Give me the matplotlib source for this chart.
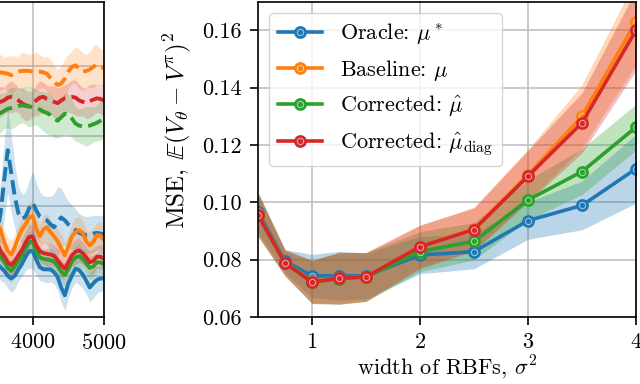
import numpy as np
import matplotlib.pyplot as plt

plt.rcParams['font.family'] = 'serif'
plt.rcParams['font.serif'] = ['cmr10']
plt.rcParams['mathtext.fontset'] = 'cm'
plt.rcParams['axes.formatter.use_mathtext'] = True
plt.rcParams['font.size'] = 16
plt.rcParams['axes.linewidth'] = 1.2
for ax_name in ('xtick', 'ytick'):
    plt.rcParams[ax_name + '.major.size'] = 5.5
    plt.rcParams[ax_name + '.major.width'] = 1.2
    plt.rcParams[ax_name + '.major.pad'] = 6

C_BLUE, C_ORANGE, C_GREEN, C_RED = '#1f77b4', '#ff7f0e', '#2ca02c', '#d62728'

# ---- left panel (learning curves, only the tail is visible) ----
steps = [3500, 3550, 3600, 3650, 3700, 3750, 3800, 3850, 3900, 3950, 4000,
         4050, 4100, 4150, 4200, 4250, 4300, 4350, 4400, 4450, 4500, 4550,
         4600, 4650, 4700, 4750, 4800, 4850, 4900, 4950, 5000]

# dashed curves
orange_dash = [3.90, 3.91, 3.90, 3.89, 3.87, 3.90, 3.92, 3.93, 3.93, 3.93, 3.92,
               3.92, 3.92, 3.91, 3.89, 3.83, 3.77, 3.73, 3.75, 3.82, 3.92, 3.99,
               4.01, 3.96, 3.92, 3.93, 3.95, 3.99, 4.02, 3.99, 3.97]
red_dash = [3.48, 3.49, 3.51, 3.55, 3.56, 3.55, 3.51, 3.47, 3.44, 3.43, 3.47,
            3.51, 3.55, 3.56, 3.53, 3.51, 3.49, 3.47, 3.51, 3.54, 3.55, 3.56,
            3.55, 3.51, 3.49, 3.47, 3.50, 3.52, 3.54, 3.53, 3.51]
green_dash = [3.32, 3.33, 3.36, 3.39, 3.40, 3.41, 3.43, 3.44, 3.43, 3.42, 3.42,
              3.41, 3.38, 3.35, 3.33, 3.30, 3.25, 3.22, 3.27, 3.32, 3.31, 3.25,
              3.18, 3.15, 3.14, 3.14, 3.15, 3.17, 3.19, 3.22, 3.25]
blue_dash = [1.61, 1.90, 2.37, 2.80, 2.47, 2.13, 1.90, 1.82, 1.85, 1.97, 2.05,
             1.94, 1.85, 1.82, 1.80, 1.74, 1.70, 1.78, 1.84, 1.80, 1.74, 1.70,
             1.66, 1.62, 1.60, 1.59, 1.59, 1.61, 1.62, 1.61, 1.60]
orange_dash_sd = [0.24, 0.26, 0.22, 0.25, 0.28, 0.24, 0.22, 0.27, 0.25, 0.23, 0.26,
                  0.28, 0.24, 0.22, 0.25, 0.27, 0.24, 0.22, 0.26, 0.28, 0.25, 0.23,
                  0.26, 0.29, 0.27, 0.24, 0.26, 0.30, 0.28, 0.25, 0.27]
red_dash_sd = [0.20, 0.22, 0.19, 0.21, 0.23, 0.20, 0.18, 0.21, 0.22, 0.20, 0.19,
               0.22, 0.24, 0.21, 0.19, 0.20, 0.23, 0.22, 0.20, 0.19, 0.21, 0.24,
               0.25, 0.23, 0.20, 0.22, 0.24, 0.22, 0.20, 0.21, 0.23]
green_dash_sd = [0.26, 0.28, 0.25, 0.27, 0.30, 0.28, 0.26, 0.25, 0.27, 0.29, 0.27,
                 0.25, 0.26, 0.28, 0.30, 0.29, 0.27, 0.25, 0.27, 0.30, 0.29, 0.27,
                 0.25, 0.24, 0.26, 0.28, 0.27, 0.25, 0.26, 0.28, 0.27]
blue_dash_sd = [0.35, 0.45, 0.55, 0.60, 0.55, 0.45, 0.38, 0.35, 0.36, 0.40, 0.45,
                0.40, 0.35, 0.33, 0.34, 0.40, 0.48, 0.50, 0.42, 0.36, 0.33, 0.32,
                0.30, 0.28, 0.27, 0.26, 0.27, 0.26, 0.25, 0.26, 0.27]

# solid curves
orange_solid = [1.75, 1.66, 1.49, 1.36, 1.31, 1.42, 1.56, 1.67, 1.74, 1.84, 1.86,
                1.68, 1.57, 1.67, 1.70, 1.63, 1.57, 1.50, 1.40, 1.30, 1.42, 1.57,
                1.63, 1.66, 1.62, 1.50, 1.44, 1.49, 1.59, 1.58, 1.52]
red_solid = [1.47, 1.36, 1.29, 1.20, 1.16, 1.22, 1.30, 1.38, 1.48, 1.56, 1.57,
             1.44, 1.36, 1.33, 1.32, 1.31, 1.29, 1.23, 1.16, 1.11, 1.20, 1.30,
             1.35, 1.37, 1.33, 1.27, 1.20, 1.22, 1.28, 1.28, 1.25]
green_solid = [1.39, 1.28, 1.21, 1.12, 1.08, 1.14, 1.22, 1.30, 1.40, 1.48, 1.50,
               1.36, 1.27, 1.25, 1.24, 1.23, 1.21, 1.15, 1.07, 1.02, 1.11, 1.21,
               1.27, 1.29, 1.25, 1.19, 1.12, 1.14, 1.20, 1.20, 1.17]
blue_solid = [1.18, 1.13, 1.08, 1.01, 0.97, 1.01, 1.10, 1.18, 1.28, 1.36, 1.36,
              1.24, 1.13, 1.10, 1.10, 1.10, 1.06, 0.99, 0.84, 0.73, 0.90, 1.01,
              1.11, 1.09, 1.03, 0.94, 0.84, 0.90, 0.95, 0.97, 0.97]
orange_solid_sd = [0.18, 0.20, 0.17, 0.19, 0.21, 0.18, 0.16, 0.19, 0.20, 0.22, 0.21,
                   0.18, 0.17, 0.19, 0.20, 0.18, 0.17, 0.19, 0.20, 0.18, 0.17, 0.19,
                   0.21, 0.20, 0.18, 0.17, 0.19, 0.20, 0.18, 0.19, 0.20]
red_solid_sd = [0.16, 0.17, 0.15, 0.16, 0.18, 0.17, 0.15, 0.16, 0.17, 0.18, 0.17,
                0.16, 0.15, 0.16, 0.17, 0.16, 0.15, 0.17, 0.18, 0.16, 0.15, 0.16,
                0.18, 0.17, 0.16, 0.15, 0.17, 0.18, 0.16, 0.17, 0.17]
green_solid_sd = [0.15, 0.16, 0.15, 0.17, 0.16, 0.15, 0.14, 0.16, 0.17, 0.16, 0.15,
                  0.16, 0.15, 0.14, 0.16, 0.17, 0.16, 0.15, 0.16, 0.17, 0.16, 0.15,
                  0.16, 0.17, 0.15, 0.16, 0.17, 0.16, 0.15, 0.16, 0.16]
blue_solid_sd = [0.18, 0.19, 0.17, 0.18, 0.20, 0.19, 0.17, 0.18, 0.20, 0.24, 0.26,
                 0.22, 0.19, 0.18, 0.19, 0.18, 0.17, 0.19, 0.21, 0.22, 0.20, 0.18,
                 0.19, 0.21, 0.20, 0.19, 0.20, 0.21, 0.19, 0.18, 0.19]

# ---- right panel (MSE vs RBF width) ----
sigma2 = [0.5, 0.75, 1.0, 1.25, 1.5, 2.0, 2.5, 3.0, 3.5, 4.0]
mse_oracle = [0.0966, 0.0795, 0.0743, 0.0744, 0.0743, 0.0816, 0.0828, 0.0936, 0.0989, 0.1117]
mse_baseline = [0.0958, 0.0790, 0.0724, 0.0736, 0.0740, 0.0845, 0.0908, 0.1095, 0.1300, 0.1630]
mse_corrected = [0.0956, 0.0788, 0.0722, 0.0734, 0.0739, 0.0828, 0.0864, 0.1008, 0.1107, 0.1262]
mse_diag = [0.0956, 0.0788, 0.0722, 0.0735, 0.0740, 0.0845, 0.0905, 0.1091, 0.1277, 0.1600]
sd_oracle = [0.0070, 0.0040, 0.0075, 0.0085, 0.0080, 0.0065, 0.0060, 0.0065, 0.0085, 0.0120]
sd_baseline = [0.0075, 0.0045, 0.0075, 0.0090, 0.0085, 0.0075, 0.0075, 0.0090, 0.0110, 0.0150]
sd_corrected = [0.0075, 0.0045, 0.0075, 0.0090, 0.0085, 0.0070, 0.0065, 0.0070, 0.0080, 0.0080]
sd_diag = [0.0075, 0.0045, 0.0075, 0.0090, 0.0085, 0.0075, 0.0075, 0.0090, 0.0105, 0.0140]
labels = [r'Oracle: $\mu^*$', r'Baseline: $\mu$', r'Corrected: $\hat{\mu}$',
          r'Corrected: $\hat{\mu}_{\rm diag}$']

fig = plt.figure(figsize=(6.4, 3.84), dpi=100)

# left axes is mostly outside the canvas
ax1 = fig.add_axes([0.1625 - 0.5906, 0.1745, 0.5906, 0.8215])
x = np.array(steps)
dash_sets = [(orange_dash, orange_dash_sd, C_ORANGE), (red_dash, red_dash_sd, C_RED),
             (green_dash, green_dash_sd, C_GREEN), (blue_dash, blue_dash_sd, C_BLUE)]
solid_sets = [(blue_solid, blue_solid_sd, C_BLUE), (green_solid, green_solid_sd, C_GREEN),
              (red_solid, red_solid_sd, C_RED), (orange_solid, orange_solid_sd, C_ORANGE)]
for m, s, c in dash_sets + solid_sets:
    m, s = np.array(m), np.array(s)
    ax1.fill_between(x, m - s, m + s, color=c, alpha=0.22, lw=0)
for m, s, c in dash_sets:
    ax1.plot(x, m, '--', color=c, lw=2.8)
for m, s, c in solid_sets:
    ax1.plot(x, m, '-', color=c, lw=2.8)
ax1.set_xlim(-300, 5000)
ax1.set_ylim(0.42, 4.92)
ax1.set_xticks([4000, 5000])
ax1.set_yticks([1, 2, 3, 4])
ax1.tick_params(labelleft=False)
ax1.grid(True, color='#c0c0c0', lw=1.2)
ax1.set_axisbelow(True)

# right axes
ax2 = fig.add_axes([258 / 640, 0.1745, 378 / 640, 0.8215])
series = [(mse_oracle, sd_oracle, C_BLUE), (mse_baseline, sd_baseline, C_ORANGE),
          (mse_corrected, sd_corrected, C_GREEN), (mse_diag, sd_diag, C_RED)]
for (m, s, c) in series:
    m, s = np.array(m), np.array(s)
    ax2.fill_between(sigma2, m - s, m + s, color=c, alpha=0.3, lw=0)
handles = []
for (m, s, c), lab in zip(series, labels):
    ln, = ax2.plot(sigma2, m, '-o', color=c, lw=2.6, ms=8, mew=1.2,
                   mfc=c, mec=c, label=lab)
    ring, = ax2.plot(sigma2, m, 'o', ms=4.5, mew=0.8, mfc='none',
                     mec=(1, 1, 1, 0.55))
    handles.append((ln, ring))
ax2.set_xlim(0.5, 4)
ax2.set_ylim(0.06, 0.17)
ax2.set_xticks([1, 2, 3, 4])
ax2.set_yticks([0.06, 0.08, 0.10, 0.12, 0.14, 0.16])
ax2.set_yticklabels(['0.06', '0.08', '0.10', '0.12', '0.14', '0.16'])
ax2.grid(True, color='#c0c0c0', lw=1.2)
ax2.set_axisbelow(True)
ax2.set_xlabel(r'width of RBFs, $\sigma^2$', labelpad=0.5)
ax2.set_ylabel(r'MSE, $\mathbb{E}(V_\theta - V^\pi)^2$', fontsize=18)
ax2.yaxis.set_label_coords(-0.172, 0.59)
ax2.legend(handles, labels, loc='upper left', fontsize=16, handlelength=2.0)

fig.savefig('out.png', dpi=100)
